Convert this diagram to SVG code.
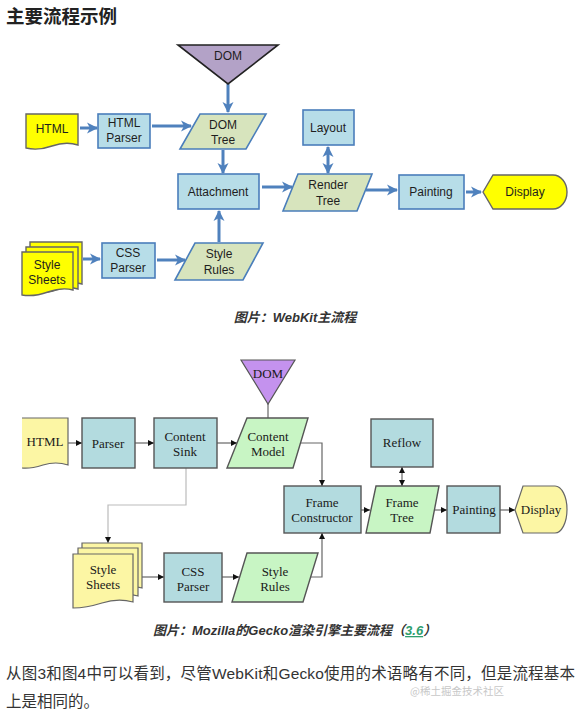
<svg xmlns="http://www.w3.org/2000/svg" width="581" height="712" viewBox="0 0 581 712">
<style>
.ws{font-family:"Liberation Sans","Open Sans",sans-serif;font-size:12px;fill:#1e1e1e;text-anchor:middle}
.gs{font-family:"Liberation Serif","DejaVu Serif",serif;font-size:13px;fill:#1a1a1a;text-anchor:middle}
.wbox{fill:#b7dde8;stroke:#4a7ebb;stroke-width:1.6}
.wpar{fill:#d7e4bd;stroke:#4a7ebb;stroke-width:1.6}
.wyel{fill:#ffff00;stroke:#666;stroke-width:1.4}
.wline{stroke:#4f81bd;stroke-width:3;fill:none}
.gbox{fill:#b3dbdf;stroke:#555;stroke-width:1.4}
.gpar{fill:#c8f5c4;stroke:#555;stroke-width:1.4}
.gyel{fill:#fcf6a4;stroke:#666;stroke-width:1.2}
.gline{stroke:#666;stroke-width:1.2;fill:none}
.cap{font-family:"Liberation Sans","Noto Sans CJK SC",sans-serif;font-size:13px;font-weight:bold;font-style:italic;fill:#333}
.body{font-family:"Liberation Sans","Noto Sans CJK SC",sans-serif;font-size:15.5px;fill:#333}
</style>
<defs>
<marker id="wa" markerUnits="userSpaceOnUse" markerWidth="12" markerHeight="12" refX="10" refY="6" orient="auto-start-reverse">
<path d="M0,0.5 L11,6 L0,11.5 L3,6 Z" fill="#4f81bd"/>
</marker>
<marker id="ga" markerUnits="userSpaceOnUse" markerWidth="7" markerHeight="7" refX="6" refY="3.5" orient="auto-start-reverse">
<path d="M0,0.5 L6,3.5 L0,6.5 Z" fill="#111"/>
</marker>
</defs>
<rect width="581" height="712" fill="#fff"/>
<text x="6" y="23" font-family="Liberation Sans,'Noto Sans CJK SC',sans-serif" font-size="18.5" font-weight="bold" fill="#222">主要流程示例</text>

<g id="connectors">
<!-- WebKit -->
<line class="wline" x1="228" y1="84" x2="228" y2="112" marker-end="url(#wa)"/>
<line class="wline" x1="80" y1="128" x2="97" y2="128" marker-end="url(#wa)"/>
<line class="wline" x1="152" y1="126" x2="191" y2="126" marker-end="url(#wa)"/>
<line class="wline" x1="223" y1="150" x2="223" y2="173" marker-end="url(#wa)"/>
<line class="wline" x1="219" y1="242" x2="219" y2="211" marker-end="url(#wa)"/>
<line class="wline" x1="262" y1="187" x2="292" y2="187" marker-end="url(#wa)"/>
<line class="wline" x1="328" y1="147" x2="328" y2="173" marker-start="url(#wa)" marker-end="url(#wa)"/>
<line class="wline" x1="366" y1="190" x2="397" y2="190" marker-end="url(#wa)"/>
<line class="wline" x1="466" y1="192" x2="481" y2="192" marker-end="url(#wa)"/>
<line class="wline" x1="83" y1="259" x2="100" y2="259" marker-end="url(#wa)"/>
<line class="wline" x1="157" y1="260" x2="185" y2="260" marker-end="url(#wa)"/>
<!-- Gecko -->
<line class="gline" x1="268" y1="404" x2="268" y2="418"/>
<line class="gline" x1="68" y1="443" x2="82" y2="443" marker-end="url(#ga)"/>
<line class="gline" x1="135" y1="443" x2="154" y2="443" marker-end="url(#ga)"/>
<line class="gline" x1="217" y1="443" x2="237" y2="443" marker-end="url(#ga)"/>
<path class="gline" d="M301,443 H322 V486" marker-end="url(#ga)"/>
<line class="gline" x1="361" y1="510" x2="370" y2="510" marker-end="url(#ga)"/>
<line class="gline" x1="402" y1="467" x2="402" y2="486" marker-start="url(#ga)" marker-end="url(#ga)"/>
<line class="gline" x1="434" y1="510" x2="447" y2="510" marker-end="url(#ga)"/>
<line class="gline" x1="500" y1="510" x2="515" y2="510" marker-end="url(#ga)"/>
<path d="M186,468 V505 H108 V543" fill="none" stroke="#bbb" stroke-width="1.2" marker-end="url(#ga)"/>
<line class="gline" x1="142" y1="577" x2="164" y2="577" marker-end="url(#ga)"/>
<line class="gline" x1="222" y1="577" x2="239" y2="577" marker-end="url(#ga)"/>
<path class="gline" d="M310,577 H322 V533" marker-end="url(#ga)"/>
</g>

<!-- WebKit nodes -->
<g id="w-dom">
<path d="M178,45 H278 L228,84 Z" fill="#b3a2c7" stroke="#222" stroke-width="1.6"/>
<text class="ws" x="228" y="60">DOM</text>
</g>
<g id="w-html">
<path class="wyel" d="M26,114 H78 V145 Q66,141 52,146 T26,148 Z"/>
<text class="ws" x="52" y="133">HTML</text>
</g>
<g id="w-htmlparser">
<rect class="wbox" x="98" y="114" width="52" height="34"/>
<text class="ws" x="124" y="127">HTML</text>
<text class="ws" x="124" y="142">Parser</text>
</g>
<g id="w-domtree">
<path class="wpar" d="M200,114 H266 L246,149 H180 Z"/>
<text class="ws" x="223" y="129">DOM</text>
<text class="ws" x="223" y="144">Tree</text>
</g>
<g id="w-attachment">
<rect class="wbox" x="178" y="174" width="81" height="35"/>
<text class="ws" x="218" y="196">Attachment</text>
</g>
<g id="w-layout">
<rect class="wbox" x="303" y="110" width="51" height="35"/>
<text class="ws" x="328" y="132">Layout</text>
</g>
<g id="w-rendertree">
<path class="wpar" d="M298,174 H372 L357,211 H283 Z"/>
<text class="ws" x="328" y="189">Render</text>
<text class="ws" x="328" y="205">Tree</text>
</g>
<g id="w-painting">
<rect class="wbox" x="399" y="175" width="65" height="34"/>
<text class="ws" x="431" y="196">Painting</text>
</g>
<g id="w-display">
<path class="wyel" d="M483,192 L493,175 H553 A14,17 0 0 1 553,209 H493 Z"/>
<text class="ws" x="525" y="196">Display</text>
</g>
<g id="w-stylesheets">
<path class="wyel" d="M30,242 H82 V284 Q72,281 60,285 T30,287 Z"/>
<path class="wyel" d="M26,247 H78 V289 Q68,286 56,290 T26,292 Z"/>
<path class="wyel" d="M22,252 H73 V290 Q62,287 48,292 T22,295 Z"/>
<text class="ws" x="47" y="269">Style</text>
<text class="ws" x="47" y="284">Sheets</text>
</g>
<g id="w-cssparser">
<rect class="wbox" x="102" y="243" width="53" height="35"/>
<text class="ws" x="128" y="257">CSS</text>
<text class="ws" x="128" y="272">Parser</text>
</g>
<g id="w-stylerules">
<path class="wpar" d="M195,243 H263 L243,280 H175 Z"/>
<text class="ws" x="219" y="258">Style</text>
<text class="ws" x="219" y="274">Rules</text>
</g>
<text class="cap" x="295" y="322" text-anchor="middle">图片：WebKit主流程</text>

<!-- Gecko nodes -->
<g id="g-dom">
<path d="M241,360 H295 L268,404 Z" fill="#c492ee" stroke="#555" stroke-width="1.2"/>
<text class="gs" x="268" y="378">DOM</text>
</g>
<g id="g-html">
<path d="M22,418 H68 V465 Q56,461 43,465 T22,468 Z" fill="#fcf6a4"/>
<path d="M22,418 H68 V465 Q56,461 43,465 T22,468" fill="none" stroke="#666" stroke-width="1.2"/>
<text class="gs" x="45" y="446">HTML</text>
</g>
<g id="g-parser">
<rect class="gbox" x="82" y="418" width="53" height="50"/>
<text class="gs" x="108" y="448">Parser</text>
</g>
<g id="g-contentsink">
<rect class="gbox" x="154" y="418" width="63" height="50"/>
<text class="gs" x="185" y="441">Content</text>
<text class="gs" x="185" y="456">Sink</text>
</g>
<g id="g-contentmodel">
<path class="gpar" d="M247,418 H308 L293,468 H227 Z"/>
<text class="gs" x="268" y="441">Content</text>
<text class="gs" x="268" y="456">Model</text>
</g>
<g id="g-frameconstructor">
<rect class="gbox" x="284" y="486" width="77" height="47"/>
<text class="gs" x="322" y="507">Frame</text>
<text class="gs" x="322" y="522">Constructor</text>
</g>
<g id="g-reflow">
<rect class="gbox" x="371" y="419" width="62" height="48"/>
<text class="gs" x="402" y="447">Reflow</text>
</g>
<g id="g-frametree">
<path class="gpar" d="M376,486 H439 L430,533 H366 Z"/>
<text class="gs" x="402" y="507">Frame</text>
<text class="gs" x="402" y="522">Tree</text>
</g>
<g id="g-painting">
<rect class="gbox" x="447" y="486" width="53" height="47"/>
<text class="gs" x="474" y="514">Painting</text>
</g>
<g id="g-display">
<path class="gyel" d="M515,510 L523,486 H555 A12,23.5 0 0 1 555,533 H523 Z"/>
<text class="gs" x="541" y="514">Display</text>
</g>
<g id="g-stylesheets">
<path class="gyel" d="M82,543 H142 V588 Q130,585 116,589 T82,592 Z"/>
<path class="gyel" d="M78,548 H138 V596 Q126,593 112,597 T78,600 Z"/>
<path class="gyel" d="M73,554 H133 V602 Q118,598 102,603 T73,608 Z"/>
<text class="gs" x="103" y="574">Style</text>
<text class="gs" x="103" y="589">Sheets</text>
</g>
<g id="g-cssparser">
<rect class="gbox" x="164" y="553" width="58" height="49"/>
<text class="gs" x="193" y="576">CSS</text>
<text class="gs" x="193" y="591">Parser</text>
</g>
<g id="g-stylerules">
<path class="gpar" d="M247,553 H318 L303,602 H232 Z"/>
<text class="gs" x="275" y="576">Style</text>
<text class="gs" x="275" y="591">Rules</text>
</g>
<text class="cap" x="153" y="635">图片：Mozilla的Gecko渲染引擎主要流程（<tspan fill="#2e9e6e" text-decoration="underline">3.6</tspan>）</text>

<text class="body" x="6" y="679" textLength="569" lengthAdjust="spacing">从图3和图4中可以看到，尽管WebKit和Gecko使用的术语略有不同，但是流程基本</text>
<text class="body" x="6" y="707">上是相同的。</text>
<text x="410" y="695" font-family="'Noto Sans CJK SC',sans-serif" font-size="10.5" fill="#c8c8c8">@稀土掘金技术社区</text>
</svg>
